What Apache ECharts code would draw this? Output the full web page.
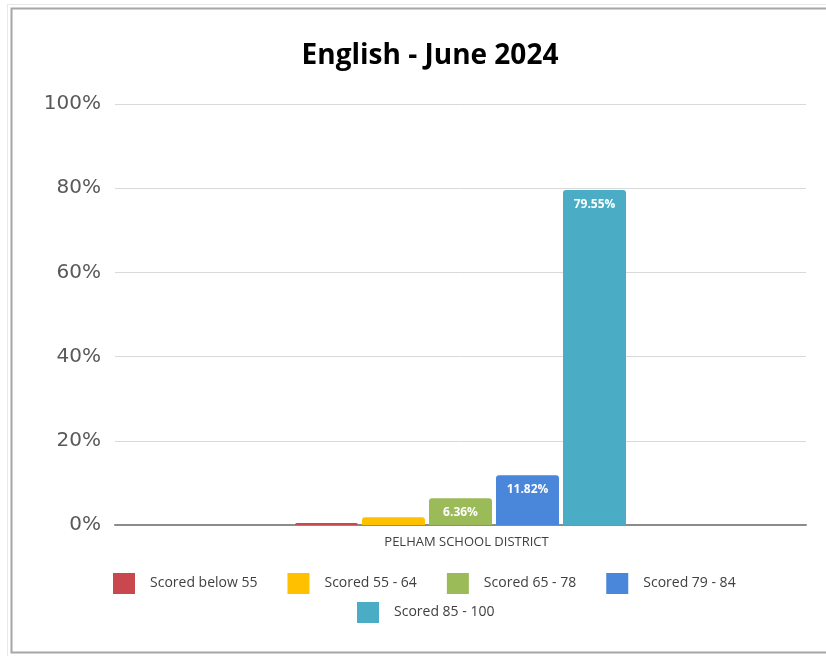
<!DOCTYPE html>
<html>
<head>
<meta charset="utf-8">
<script src="https://cdn.jsdelivr.net/npm/echarts@6/dist/echarts.min.js"></script>
<style>
html,body{margin:0;padding:0;background:#fff;}
#chart{width:826px;height:656px;}
</style>
</head>
<body>
<div id="chart"></div>
<script>
const titleText = 'English - June 2024';
const categories = ['PELHAM SCHOOL DISTRICT'];
const seriesNames = ['Scored below 55', 'Scored 55 - 64', 'Scored 65 - 78', 'Scored 79 - 84', 'Scored 85 - 100'];
const seriesValues = [0.45, 1.82, 6.36, 11.82, 79.55];
const showLabels = [false, false, true, true, true];
const colors = ['#C9484D', '#FFC000', '#9BBB59', '#4A86DA', '#4BACC6'];
const yTicks = [0, 20, 40, 60, 80, 100];

const chart = echarts.init(document.getElementById('chart'), null, {renderer: 'canvas'});
const legendText = {color: '#404040', fontSize: 14, fontFamily: 'Open Sans', padding: [0, 0, 0, 10]};
const option = {
  animation: false,
  backgroundColor: '#fff',
  title: {
    text: titleText, left: 425, top: 37, textAlign: 'center',
    textStyle: {fontFamily: 'Open Sans', fontWeight: 'bold', fontSize: 28, color: '#000'}
  },
  graphic: [
    {type: 'rect', shape: {x: 7.5, y: 4.5, width: 900, height: 652}, style: {fill: 'none', stroke: '#e8e8e8', lineWidth: 1}},
    {type: 'rect', shape: {x: 11.5, y: 8.5, width: 900, height: 644}, style: {fill: 'none', stroke: '#a6a6a6', lineWidth: 2}}
  ],
  legend: [
    {data: seriesNames.slice(0, 4), left: 108, top: 568, itemWidth: 22, itemHeight: 21, itemGap: 30,
     icon: 'rect', textStyle: legendText, selectedMode: false},
    {data: seriesNames.slice(4), left: 352, top: 597, itemWidth: 22, itemHeight: 21, itemGap: 30,
     icon: 'rect', textStyle: legendText, selectedMode: false}
  ],
  grid: {left: 115, right: 20, top: 104, bottom: 131, containLabel: false},
  xAxis: {
    type: 'category', data: categories,
    axisLine: {lineStyle: {color: '#8c8c8c', width: 2}},
    axisTick: {show: false},
    axisLabel: {color: '#404040', fontSize: 13, fontFamily: 'Open Sans', margin: 11, padding: [0, 0, 0, 12]}
  },
  yAxis: {
    type: 'value', min: 0, max: 100, interval: 20,
    axisLine: {show: false}, axisTick: {show: false},
    splitLine: {lineStyle: {color: '#d9d9d9', width: 1}},
    axisLabel: {color: '#595959', fontSize: 20, fontFamily: 'DejaVu Sans', margin: 14,
      formatter: v => yTicks.includes(v) ? v + '%' : ''}
  },
  series: seriesNames.map((name, i) => ({
    name: name, type: 'bar', data: [seriesValues[i]],
    barWidth: 63, barGap: '6.35%',
    itemStyle: {color: colors[i], borderRadius: [3, 3, 0, 0]},
    label: {show: showLabels[i], position: 'insideTop', distance: 8, color: '#fff',
      fontWeight: 'bold', fontSize: 12, fontFamily: 'Open Sans', formatter: p => p.value.toFixed(2) + '%'}
  }))
};
chart.setOption(option);
</script>
</body>
</html>
